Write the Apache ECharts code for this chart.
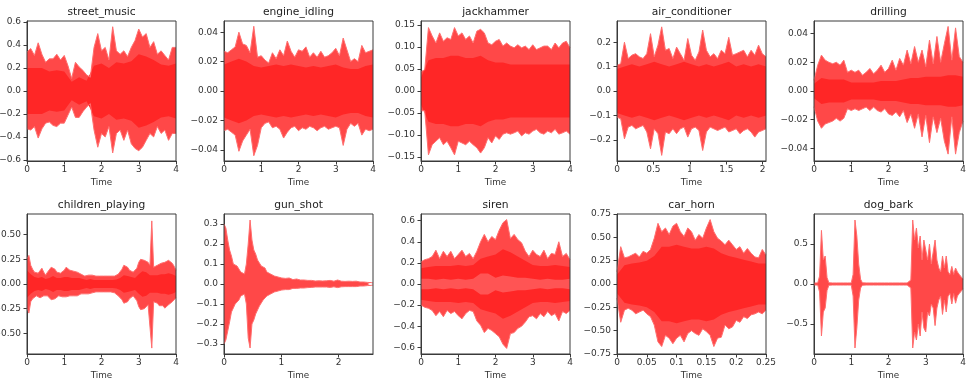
<!DOCTYPE html>
<html><head><meta charset="utf-8">
<script src="https://cdn.jsdelivr.net/npm/echarts@6/dist/echarts.min.js"></script>
<style>html,body{margin:0;padding:0;background:#fff}#c{width:974px;height:391px}</style>
</head><body><div id="c"></div>
<script>
const titles = ['street_music','engine_idling','jackhammer','air_conditioner','drilling','children_playing','gun_shot','siren','car_horn','dog_bark'];
const durations = [4, 4, 4, 2.045, 4, 4, 2.6, 4, 0.25, 4];
const yLimits = [0.61, 0.0476, 0.159, 0.287, 0.0488, 0.71, 0.35, 0.663, 0.75, 0.875];
const yTicks = [
  [-0.6,-0.4,-0.2,0,0.2,0.4,0.6],
  [-0.04,-0.02,0,0.02,0.04],
  [-0.15,-0.1,-0.05,0,0.05,0.1,0.15],
  [-0.2,-0.1,0,0.1,0.2],
  [-0.04,-0.02,0,0.02,0.04],
  [-0.5,-0.25,0,0.25,0.5],
  [-0.3,-0.2,-0.1,0,0.1,0.2,0.3],
  [-0.6,-0.4,-0.2,0,0.2,0.4,0.6],
  [-0.75,-0.5,-0.25,0,0.25,0.5,0.75],
  [-0.5,0,0.5]
];
const yDecimals = [1, 2, 2, 1, 2, 2, 1, 1, 2, 1];
const xTicks = [
  [0,1,2,3,4],[0,1,2,3,4],[0,1,2,3,4],[0,0.5,1,1.5,2],[0,1,2,3,4],
  [0,1,2,3,4],[0,1,2],[0,1,2,3,4],[0,0.05,0.1,0.15,0.2,0.25],[0,1,2,3,4]
];

// envelopes: upper (max) and lower (min) amplitude, evenly spaced over each clip
const streetUpper = [0.34,0.37,0.31,0.42,0.32,0.25,0.28,0.28,0.32,0.27,0.31,0.22,0.11,0.25,0.21,0.18,0.14,0.12,0.38,0.50,0.35,0.38,0.27,0.56,0.35,0.32,0.35,0.30,0.38,0.44,0.54,0.47,0.50,0.38,0.43,0.32,0.35,0.31,0.27,0.38,0.38];
const streetLower = [-0.33,-0.34,-0.31,-0.41,-0.33,-0.28,-0.27,-0.30,-0.31,-0.28,-0.28,-0.21,-0.14,-0.23,-0.23,-0.18,-0.14,-0.11,-0.34,-0.49,-0.37,-0.40,-0.31,-0.54,-0.37,-0.34,-0.43,-0.34,-0.46,-0.50,-0.52,-0.49,-0.43,-0.37,-0.40,-0.31,-0.37,-0.34,-0.43,-0.37,-0.37];
const streetCore = [0.2,0.2,0.2,0.17,0.18,0.17,0.08,0.12,0.09,0.22,0.24,0.2,0.25,0.24,0.26,0.32,0.3,0.27,0.23,0.22,0.24];

const engineUpper = [0.027,0.026,0.028,0.030,0.040,0.032,0.031,0.026,0.044,0.023,0.024,0.021,0.019,0.026,0.022,0.028,0.024,0.034,0.027,0.023,0.028,0.027,0.030,0.023,0.026,0.023,0.027,0.023,0.024,0.026,0.029,0.024,0.036,0.028,0.020,0.022,0.020,0.031,0.026,0.027,0.028];
const engineLower = [-0.027,-0.026,-0.028,-0.030,-0.041,-0.034,-0.030,-0.026,-0.044,-0.037,-0.025,-0.022,-0.021,-0.025,-0.024,-0.026,-0.032,-0.028,-0.025,-0.024,-0.027,-0.025,-0.026,-0.024,-0.025,-0.027,-0.025,-0.024,-0.026,-0.025,-0.024,-0.025,-0.037,-0.026,-0.022,-0.024,-0.022,-0.030,-0.026,-0.027,-0.026];
const engineCore = [0.018,0.02,0.022,0.02,0.017,0.016,0.017,0.018,0.017,0.018,0.017,0.016,0.017,0.016,0.017,0.018,0.016,0.015,0.015,0.017,0.018];

const jackUpper = [0.044,0.048,0.144,0.125,0.109,0.132,0.113,0.121,0.117,0.144,0.125,0.132,0.117,0.125,0.109,0.136,0.140,0.132,0.109,0.105,0.113,0.117,0.102,0.109,0.102,0.098,0.105,0.098,0.102,0.094,0.105,0.094,0.098,0.102,0.102,0.094,0.109,0.098,0.109,0.113,0.098];
const jackLower = [-0.045,-0.045,-0.145,-0.122,-0.114,-0.106,-0.122,-0.114,-0.129,-0.145,-0.114,-0.118,-0.122,-0.114,-0.122,-0.129,-0.141,-0.129,-0.106,-0.118,-0.102,-0.110,-0.098,-0.095,-0.098,-0.095,-0.091,-0.102,-0.095,-0.098,-0.091,-0.087,-0.095,-0.098,-0.091,-0.095,-0.087,-0.098,-0.095,-0.091,-0.098];
const jackCore = [0.03,0.07,0.075,0.075,0.08,0.08,0.075,0.075,0.08,0.07,0.065,0.065,0.06,0.06,0.06,0.06,0.06,0.06,0.06,0.06,0.06];

const airUpper = [0.105,0.112,0.20,0.133,0.147,0.153,0.14,0.133,0.153,0.235,0.14,0.188,0.263,0.167,0.174,0.133,0.18,0.153,0.126,0.215,0.147,0.126,0.16,0.25,0.167,0.14,0.153,0.133,0.167,0.153,0.22,0.147,0.153,0.16,0.167,0.14,0.167,0.147,0.188,0.153,0.14];
const airLower = [-0.107,-0.114,-0.196,-0.148,-0.141,-0.155,-0.148,-0.141,-0.168,-0.237,-0.155,-0.175,-0.264,-0.168,-0.175,-0.155,-0.175,-0.155,-0.148,-0.189,-0.155,-0.148,-0.162,-0.244,-0.168,-0.148,-0.155,-0.162,-0.155,-0.148,-0.168,-0.162,-0.155,-0.175,-0.162,-0.155,-0.168,-0.189,-0.168,-0.162,-0.155];
const airCore = [0.09,0.1,0.11,0.1,0.11,0.12,0.11,0.1,0.11,0.12,0.11,0.1,0.11,0.1,0.11,0.12,0.1,0.11,0.1,0.11,0.1];

const drillUpper = [0.0075,0.018,0.025,0.0215,0.020,0.019,0.020,0.018,0.0215,0.013,0.0145,0.013,0.0145,0.011,0.013,0.0157,0.012,0.0145,0.018,0.013,0.0157,0.0215,0.0145,0.0227,0.018,0.0285,0.019,0.031,0.020,0.0285,0.017,0.0355,0.019,0.038,0.020,0.033,0.045,0.0215,0.044,0.024,0.020];
const drillLower = [-0.011,-0.021,-0.026,-0.023,-0.022,-0.021,-0.019,-0.021,-0.019,-0.0124,-0.0136,-0.0124,-0.0136,-0.0124,-0.0112,-0.0136,-0.0112,-0.0136,-0.0147,-0.0124,-0.016,-0.017,-0.0147,-0.018,-0.0136,-0.022,-0.016,-0.026,-0.016,-0.032,-0.017,-0.036,-0.018,-0.029,-0.019,-0.035,-0.044,-0.018,-0.044,-0.029,-0.021];
const drillCore = [0.005,0.009,0.008,0.008,0.008,0.006,0.006,0.006,0.006,0.007,0.007,0.007,0.008,0.009,0.009,0.01,0.01,0.01,0.011,0.011,0.01];

const childUpper = [0.26,0.29,0.19,0.15,0.12,0.14,0.11,0.13,0.16,0.12,0.09,0.12,0.14,0.17,0.19,0.15,0.12,0.1,0.11,0.13,
  0.14,0.17,0.16,0.14,0.12,0.13,0.11,0.12,0.12,0.1,0.09,0.08,0.074,0.09,0.11,0.09,0.074,0.08,0.09,0.08,
  0.074,0.08,0.09,0.08,0.074,0.08,0.074,0.08,0.09,0.1,0.12,0.15,0.19,0.2,0.17,0.14,0.14,0.12,0.11,0.16,
  0.22,0.25,0.27,0.24,0.26,0.22,0.19,0.64,0.17,0.16,0.19,0.2,0.21,0.19,0.22,0.2,0.24,0.22,0.21,0.18,0.14];
const childLower = [-0.245,-0.295,-0.18,-0.15,-0.13,-0.12,-0.11,-0.14,-0.14,-0.12,-0.11,-0.12,-0.13,-0.16,-0.18,-0.15,-0.13,-0.12,-0.11,-0.13,
  -0.14,-0.13,-0.13,-0.12,-0.11,-0.12,-0.14,-0.12,-0.11,-0.1,-0.11,-0.1,-0.094,-0.1,-0.094,-0.09,-0.077,-0.08,-0.077,-0.08,
  -0.094,-0.08,-0.077,-0.08,-0.077,-0.08,-0.077,-0.09,-0.11,-0.12,-0.13,-0.16,-0.195,-0.2,-0.18,-0.15,-0.13,-0.12,-0.11,-0.17,
  -0.23,-0.26,-0.28,-0.25,-0.245,-0.21,-0.195,-0.65,-0.18,-0.19,-0.195,-0.22,-0.23,-0.22,-0.245,-0.23,-0.21,-0.2,-0.18,-0.16,-0.14];
const childCore = [0.14,0.1,0.07,0.06,0.07,0.05,0.06,0.08,0.06,0.06,0.07,0.07,0.06,0.06,0.06,0.05,0.04,0.05,0.04,0.04,0.04,0.04,0.04,0.04,0.045,0.06,0.09,0.08,0.07,0.06,0.1,0.13,0.12,0.09,0.09,0.09,0.1,0.1,0.11,0.1,0.08];

const gunUpper = [0.3,0.28,0.22,0.17,0.14,0.1,0.1,0.09,0.09,0.06,0.05,0.05,0.1,0.2,0.32,0.22,0.17,0.15,0.12,0.11,
  0.09,0.09,0.08,0.06,0.05,0.05,0.045,0.04,0.04,0.035,0.035,0.03,0.03,0.028,0.025,0.03,0.025,0.022,0.02,0.025,
  0.02,0.02,0.018,0.02,0.016,0.018,0.015,0.018,0.016,0.015,0.014,0.016,0.013,0.015,0.014,0.016,0.013,0.018,0.015,0.014,
  0.016,0.02,0.016,0.014,0.015,0.013,0.012,0.014,0.012,0.013,0.012,0.014,0.011,0.01,0.012,0.01,0.009,0.008,0.008,0.007,0.005];
const gunLower = [-0.3,-0.28,-0.27,-0.19,-0.14,-0.12,-0.1,-0.09,-0.08,-0.06,-0.05,-0.05,-0.1,-0.27,-0.32,-0.2,-0.18,-0.15,-0.13,-0.11,
  -0.1,-0.08,-0.07,-0.06,-0.05,-0.05,-0.045,-0.04,-0.04,-0.035,-0.035,-0.03,-0.03,-0.028,-0.025,-0.028,-0.025,-0.022,-0.02,-0.022,
  -0.02,-0.02,-0.018,-0.02,-0.016,-0.018,-0.015,-0.017,-0.016,-0.015,-0.014,-0.015,-0.013,-0.015,-0.014,-0.015,-0.013,-0.017,-0.015,-0.014,
  -0.015,-0.018,-0.016,-0.014,-0.015,-0.013,-0.012,-0.013,-0.012,-0.013,-0.012,-0.013,-0.011,-0.01,-0.011,-0.01,-0.009,-0.008,-0.008,-0.007,-0.005];
const gunCore = [];

const sirenUpper = [0.21,0.23,0.24,0.26,0.32,0.24,0.31,0.26,0.31,0.24,0.28,0.32,0.26,0.29,0.24,0.31,0.40,0.47,0.40,0.45,0.42,0.51,0.58,0.61,0.43,0.47,0.42,0.39,0.31,0.26,0.32,0.28,0.26,0.32,0.24,0.29,0.28,0.40,0.26,0.29,0.23];
const sirenLower = [-0.20,-0.22,-0.23,-0.25,-0.30,-0.26,-0.31,-0.25,-0.28,-0.26,-0.30,-0.33,-0.28,-0.25,-0.26,-0.35,-0.39,-0.46,-0.42,-0.44,-0.47,-0.50,-0.57,-0.61,-0.47,-0.46,-0.42,-0.40,-0.36,-0.31,-0.30,-0.33,-0.28,-0.31,-0.26,-0.30,-0.28,-0.35,-0.26,-0.28,-0.25];
const sirenCore = [0.15,0.16,0.17,0.17,0.17,0.18,0.17,0.18,0.24,0.26,0.28,0.33,0.3,0.26,0.22,0.18,0.17,0.17,0.18,0.17,0.16];
const sirenHollow = [0.05,0.05,0.04,0.05,0.04,0.05,0.04,0.05,0.1,0.1,0.06,0.08,0.07,0.06,0.06,0.05,0.04,0.05,0.04,0.04,0.05];

const hornUpper = [0.13,0.40,0.28,0.29,0.31,0.33,0.29,0.35,0.33,0.37,0.49,0.65,0.56,0.60,0.53,0.62,0.65,0.56,0.51,0.60,0.56,0.47,0.53,0.49,0.60,0.69,0.56,0.49,0.46,0.42,0.47,0.42,0.37,0.40,0.33,0.38,0.33,0.29,0.28,0.37,0.31];
const hornLower = [-0.15,-0.41,-0.28,-0.26,-0.28,-0.32,-0.30,-0.28,-0.32,-0.35,-0.44,-0.62,-0.67,-0.55,-0.58,-0.64,-0.58,-0.55,-0.62,-0.53,-0.50,-0.53,-0.55,-0.48,-0.51,-0.55,-0.67,-0.58,-0.57,-0.44,-0.48,-0.46,-0.39,-0.41,-0.35,-0.37,-0.33,-0.32,-0.30,-0.32,-0.28];
const hornCore = [0.1,0.2,0.22,0.23,0.25,0.3,0.4,0.4,0.42,0.4,0.38,0.38,0.4,0.38,0.33,0.3,0.28,0.26,0.24,0.22,0.22];

const dogUpper = [0.013,0.013,0.013,0.1,0.67,0.3,0.35,0.08,0.015,0.013,
  0.013,0.013,0.013,0.013,0.013,0.013,0.013,0.013,0.013,0.013,
  0.013,0.12,0.8,0.6,0.25,0.06,0.015,0.013,0.013,0.013,
  0.013,0.013,0.013,0.013,0.013,0.013,0.013,0.013,0.013,0.013,
  0.013,0.013,0.013,0.013,0.013,0.013,0.013,0.013,0.013,0.013,
  0.013,0.013,0.05,0.8,0.55,0.7,0.45,0.6,0.3,0.55,
  0.55,0.3,0.5,0.25,0.25,0.55,0.3,0.2,0.15,0.35,
  0.2,0.35,0.15,0.12,0.22,0.12,0.2,0.15,0.12,0.1,0.06];
const dogLower = [-0.013,-0.013,-0.013,-0.1,-0.65,-0.35,-0.3,-0.08,-0.015,-0.013,
  -0.013,-0.013,-0.013,-0.013,-0.013,-0.013,-0.013,-0.013,-0.013,-0.013,
  -0.013,-0.15,-0.8,-0.55,-0.2,-0.05,-0.015,-0.013,-0.013,-0.013,
  -0.013,-0.013,-0.013,-0.013,-0.013,-0.013,-0.013,-0.013,-0.013,-0.013,
  -0.013,-0.013,-0.013,-0.013,-0.013,-0.013,-0.013,-0.013,-0.013,-0.013,
  -0.013,-0.013,-0.05,-0.8,-0.6,-0.7,-0.5,-0.65,-0.35,-0.55,
  -0.6,-0.35,-0.4,-0.25,-0.3,-0.52,-0.3,-0.2,-0.15,-0.38,
  -0.2,-0.35,-0.15,-0.12,-0.25,-0.12,-0.24,-0.15,-0.12,-0.1,-0.06];
const dogCore = [];

const uppers = [streetUpper, engineUpper, jackUpper, airUpper, drillUpper, childUpper, gunUpper, sirenUpper, hornUpper, dogUpper];
const lowers = [streetLower, engineLower, jackLower, airLower, drillLower, childLower, gunLower, sirenLower, hornLower, dogLower];
const cores = [streetCore, engineCore, jackCore, airCore, drillCore, childCore, gunCore, sirenCore, hornCore, dogCore];
const hollows = [[], [], [], [], [], [], [], sirenHollow, [], []];

const FONT = 'DejaVu Sans';
const AX = '#3a3a3a';
const lefts = [27, 224, 421, 617, 814];
const tops = [21, 214];
const GW = 149, GH = 140;

function fmtY(v, d) { return v.toFixed(d).replace('-', '\u2212'); }
function fmtX(v) { return String(parseFloat(v.toFixed(3))); }
function series(k, arr, sign, color, lineColor, lw) {
  const n = arr.length, dur = durations[k];
  return {
    type: 'line', xAxisIndex: k, yAxisIndex: k, silent: true, animation: false,
    symbol: 'none', showSymbol: false,
    data: arr.map((v, i) => [i * dur / (n - 1), sign * v]),
    lineStyle: { width: lw, color: lineColor, opacity: lw > 0 ? 1 : 0 },
    areaStyle: { color: color, opacity: 1 }
  };
}

const grid = [], xAxis = [], yAxis = [], title = [], allSeries = [];
titles.forEach((t, k) => {
  const c = k % 5, r = Math.floor(k / 5);
  grid.push({ left: lefts[c], top: tops[r], width: GW, height: GH, show: true, z: 5,
    borderColor: AX, borderWidth: 1, backgroundColor: 'transparent', containLabel: false, outerBoundsMode: 'none' });
  title.push({ text: t, left: lefts[c] + GW / 2, top: r === 0 ? 7 : 200, textAlign: 'center', padding: 0,
    textStyle: { fontFamily: FONT, fontSize: 10.7, fontWeight: 'normal', color: '#222' } });
  xAxis.push({ type: 'value', gridIndex: k, min: 0, max: durations[k],
    name: 'Time', nameLocation: 'middle', nameGap: 17,
    nameTextStyle: { fontFamily: FONT, fontSize: 8.8, color: '#333' },
    axisLine: { show: true, onZero: false, lineStyle: { color: AX, width: 1 } },
    axisTick: { show: true, length: 3.5, customValues: xTicks[k], lineStyle: { color: AX } },
    axisLabel: { customValues: xTicks[k], formatter: fmtX, fontFamily: FONT, fontSize: 9, color: '#333', margin: 4.5 },
    splitLine: { show: false } });
  yAxis.push({ type: 'value', gridIndex: k, min: -yLimits[k], max: yLimits[k],
    axisLine: { show: true, onZero: false, lineStyle: { color: AX, width: 1 } },
    axisTick: { show: true, length: 3.5, customValues: yTicks[k], lineStyle: { color: AX } },
    axisLabel: { customValues: yTicks[k], formatter: v => fmtY(v, yDecimals[k]), fontFamily: FONT, fontSize: 9, color: '#333', margin: 6 },
    splitLine: { show: false } });
  allSeries.push(series(k, uppers[k], 1, '#ff4848', '#ff6e6e', 1));
  allSeries.push(series(k, lowers[k], 1, '#ff4848', '#ff6e6e', 1));
  if (cores[k].length) {
    allSeries.push(series(k, cores[k], 1, '#ff2626', '#ff2626', 0));
    allSeries.push(series(k, cores[k], -1, '#ff2626', '#ff2626', 0));
  }
  if (hollows[k].length) {
    allSeries.push(series(k, hollows[k], 1, '#ff5454', '#ff5454', 0));
    allSeries.push(series(k, hollows[k], -1, '#ff5454', '#ff5454', 0));
  }
});

const chart = echarts.init(document.getElementById('c'), null, { renderer: 'canvas' });
chart.setOption({ animation: false, backgroundColor: '#fff', title, grid, xAxis, yAxis, series: allSeries });
</script></body></html>
